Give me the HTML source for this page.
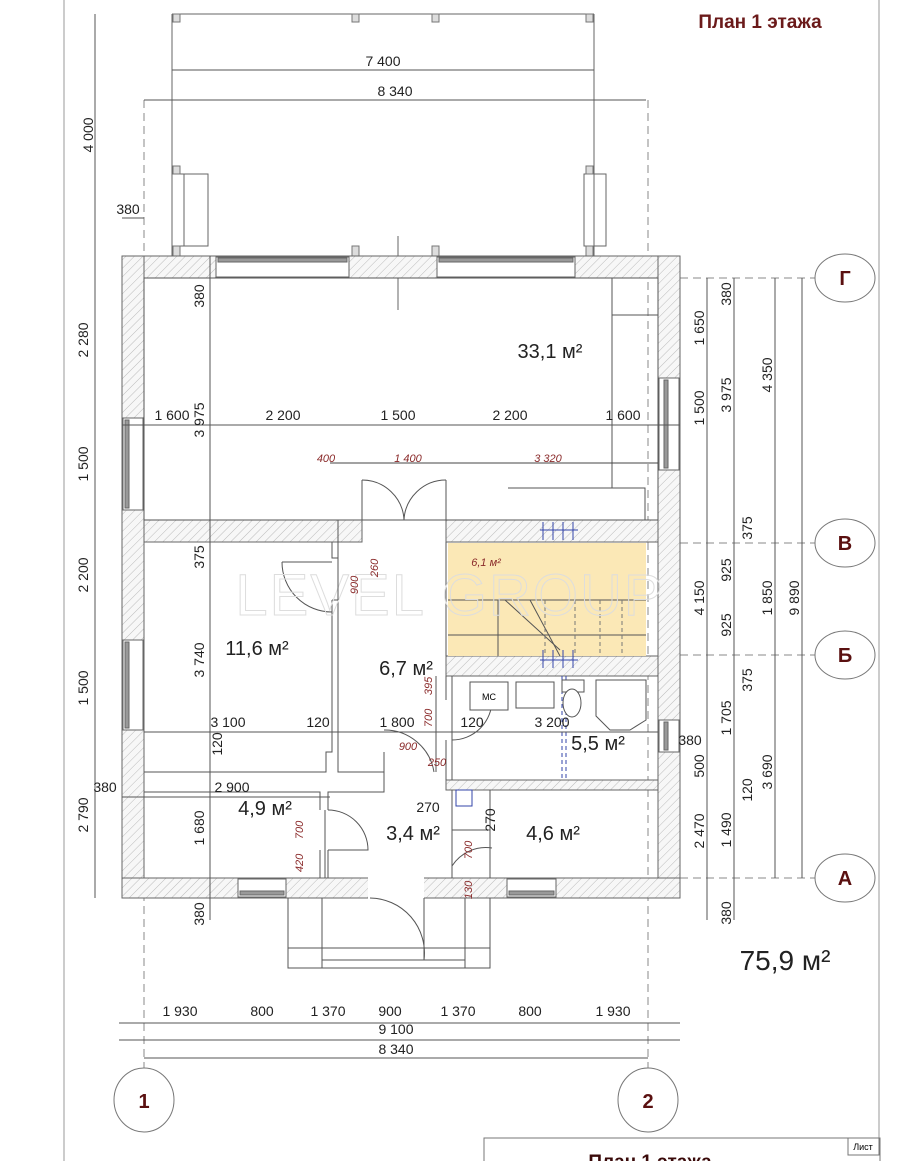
<!DOCTYPE html>
<html><head><meta charset="utf-8"><style>
html,body{margin:0;padding:0;background:#fff;}
svg{display:block;font-family:"Liberation Sans","DejaVu Sans",sans-serif;}
.d{font-size:14px;fill:#222;}
.r{font-size:11px;fill:#8a2a2a;font-style:italic;}
.ar{font-size:20px;fill:#222;}
.ax{font-size:20px;font-weight:bold;fill:#5a1010;}
</style></head><body>
<svg width="897" height="1161" viewBox="0 0 897 1161" xmlns="http://www.w3.org/2000/svg">
<defs>
<pattern id="h" width="6" height="6" patternUnits="userSpaceOnUse" patternTransform="rotate(45)">
<rect width="6" height="6" fill="#f7f7f7"/><line x1="0" y1="0" x2="0" y2="6" stroke="#bbb" stroke-width="1"/></pattern>
</defs>
<!-- frame -->
<line x1="64" y1="0" x2="64" y2="1161" stroke="#999"/>
<line x1="879" y1="0" x2="879" y2="1161" stroke="#999"/>
<text x="760" y="28" text-anchor="middle" style="font-size:19px;font-weight:bold;fill:#6b1a1a">План 1 этажа</text>

<!-- terrace -->
<g stroke="#666" fill="none" stroke-width="1">
<line x1="172" y1="14" x2="594" y2="14"/>
<line x1="172" y1="14" x2="172" y2="256"/><line x1="594" y1="14" x2="594" y2="256"/>
<rect x="172" y="174" width="36" height="72"/><line x1="184" y1="174" x2="184" y2="246"/>
<rect x="584" y="174" width="10" height="72"/><rect x="584" y="174" width="22" height="72"/>
</g>
<g fill="#ddd" stroke="#777">
<rect x="173" y="14" width="7" height="8"/><rect x="352" y="14" width="7" height="8"/><rect x="432" y="14" width="7" height="8"/><rect x="586" y="14" width="7" height="8"/>
<rect x="173" y="166" width="7" height="8"/><rect x="586" y="166" width="7" height="8"/>
<rect x="173" y="246" width="7" height="10"/><rect x="352" y="246" width="7" height="10"/><rect x="432" y="246" width="7" height="10"/><rect x="586" y="246" width="7" height="10"/>
</g>
<line x1="398" y1="236" x2="398" y2="310" stroke="#666"/>

<!-- axis dashed -->
<g stroke="#888" stroke-dasharray="8,5" fill="none">
<line x1="144" y1="100" x2="144" y2="1072"/><line x1="648" y1="100" x2="648" y2="1072"/>
<line x1="680" y1="278" x2="815" y2="278"/><line x1="680" y1="543" x2="815" y2="543"/>
<line x1="680" y1="655" x2="815" y2="655"/><line x1="680" y1="878" x2="815" y2="878"/>
</g>

<!-- walls -->
<g fill="url(#h)" stroke="#666" stroke-width="1">
<rect x="122" y="256" width="558" height="22"/>
<rect x="122" y="256" width="22" height="642"/>
<rect x="658" y="256" width="22" height="642"/>
<rect x="122" y="878" width="558" height="20"/>
<rect x="144" y="520" width="218" height="22"/>
<rect x="446" y="520" width="212" height="22"/>
<rect x="446" y="656" width="212" height="20"/>
<rect x="446" y="780" width="212" height="10"/>
</g>
<!-- openings -->
<g fill="#fff" stroke="#666">
<rect x="216" y="257" width="133" height="20"/><rect x="437" y="257" width="138" height="20"/>
<rect x="123" y="418" width="20" height="92"/><rect x="123" y="640" width="20" height="90"/>
<rect x="659" y="378" width="20" height="92"/><rect x="659" y="720" width="20" height="32"/>
<rect x="238" y="879" width="48" height="18"/><rect x="507" y="879" width="49" height="18"/>
<rect x="368" y="877" width="56" height="22" stroke="none"/>
</g>
<g fill="#999" stroke="#666">
<rect x="218" y="258" width="129" height="4"/><rect x="439" y="258" width="134" height="4"/>
<rect x="125" y="420" width="4" height="88"/><rect x="125" y="642" width="4" height="86"/>
<rect x="664" y="380" width="4" height="88"/><rect x="664" y="722" width="4" height="28"/>
<rect x="240" y="891" width="44" height="4"/><rect x="509" y="891" width="45" height="4"/>
</g>
<!-- inner partitions -->
<g fill="none" stroke="#555" stroke-width="1">
<rect x="144" y="278" width="514" height="242"/>
<line x1="144" y1="732" x2="658" y2="732" stroke="#333"/>
<path d="M144 772 H326 V752 H332 V600 M338 600 V772 H384 V752 M144 792 H320 V810 M320 850 V878 M328 850 V878 M328 810 V792 H384 V772"/>
<path d="M332 542 V558 H338 M338 600 H332"/>
<path d="M446 542 V656 M452 676 V780 M446 676 V700 M446 740 V780"/>
<path d="M452 790 V830 H490 V790 M490 800 V878 M452 848 V878"/>
<path d="M362 480 V520 M446 480 V520"/>
<path d="M508 488 H645 V520 M612 278 V488 M612 315 H658"/>
<path d="M288 898 V968 H490 V898 M322 898 V968 M465 898 V968 M288 948 H490 M322 960 H465"/>
</g>
<!-- doors -->
<g fill="none" stroke="#555">
<path d="M362 480 A42 42 0 0 1 404 520"/><path d="M446 480 A42 42 0 0 0 404 520"/>
<line x1="362" y1="480" x2="362" y2="520"/><line x1="446" y1="480" x2="446" y2="520"/>
<path d="M282 562 H332"/><path d="M282 562 A50 50 0 0 0 332 612"/>
<path d="M328 810 A40 40 0 0 1 368 850 H328"/>
<path d="M452 704 V740 A40 40 0 0 0 492 700"/>
<path d="M452 826 V866 A40 40 0 0 1 492 848"/>
<path d="M424 898 V960 A55 55 0 0 0 370 898"/>
<path d="M384 730 A50 50 0 0 1 434 772"/>
</g>
<!-- stairs -->
<rect x="448" y="543" width="198" height="113" fill="#fbe8b6"/>
<g stroke="#555" fill="none">
<line x1="448" y1="600" x2="646" y2="600"/><line x1="448" y1="635" x2="646" y2="635"/>
<line x1="498" y1="600" x2="498" y2="656"/><line x1="530" y1="600" x2="560" y2="656"/>
<line x1="505" y1="600" x2="560" y2="650"/>
</g>
<g stroke="#777" stroke-dasharray="4,3"><line x1="545" y1="600" x2="545" y2="656"/><line x1="575" y1="600" x2="575" y2="656"/><line x1="600" y1="600" x2="600" y2="656"/><line x1="622" y1="600" x2="622" y2="656"/></g>
<g stroke="#3344aa" fill="none"><path d="M543 522 V540 M553 522 V540 M563 522 V540 M573 522 V540 M540 530 H578 M543 650 V668 M553 650 V668 M563 650 V668 M573 650 V668 M540 660 H578"/>
<rect x="456" y="790" width="16" height="16"/><line x1="562" y1="676" x2="562" y2="780" stroke-dasharray="4,3"/><line x1="566" y1="676" x2="566" y2="780" stroke-dasharray="4,3"/></g>
<!-- bath fixtures -->
<g fill="#fff" stroke="#555">
<rect x="470" y="682" width="38" height="28"/><rect x="516" y="682" width="38" height="26"/>
<rect x="562" y="680" width="22" height="12"/><ellipse cx="572" cy="703" rx="9" ry="14"/>
<path d="M596 680 H646 V720 L630 730 H610 L596 716 Z"/>
</g>
<text x="489" y="700" style="font-size:9px" text-anchor="middle">МС</text>

<!-- watermark -->
<text x="450" y="615" text-anchor="middle" style="font-size:58px;fill:none;stroke:#ddd;stroke-width:1;letter-spacing:2px">LEVEL GROUP</text>

<!-- dimension lines -->
<g stroke="#555" fill="none">
<line x1="172" y1="70" x2="594" y2="70"/><line x1="144" y1="100" x2="646" y2="100"/>
<line x1="95" y1="14" x2="95" y2="256"/><line x1="122" y1="218" x2="144" y2="218"/>
<line x1="95" y1="256" x2="95" y2="898"/><line x1="210" y1="256" x2="210" y2="920"/>
<line x1="122" y1="425" x2="680" y2="425"/><line x1="330" y1="463" x2="658" y2="463" stroke="#444"/>
<line x1="144" y1="732" x2="658" y2="732"/><line x1="122" y1="797" x2="330" y2="797"/>
<line x1="707" y1="278" x2="707" y2="920"/><line x1="734" y1="278" x2="734" y2="920"/>
<line x1="775" y1="278" x2="775" y2="878"/><line x1="802" y1="278" x2="802" y2="878"/>
<line x1="119" y1="1023" x2="680" y2="1023"/><line x1="119" y1="1040" x2="680" y2="1040"/><line x1="144" y1="1058" x2="648" y2="1058"/>
<line x1="338" y1="520" x2="338" y2="600"/><line x1="436" y1="676" x2="436" y2="772"/><line x1="325" y1="810" x2="325" y2="878"/>
</g>
<g class="d" text-anchor="middle">
<text x="383" y="66">7 400</text><text x="395" y="96">8 340</text>
<text x="128" y="214">380</text>
<text x="172" y="420">1 600</text><text x="283" y="420">2 200</text><text x="398" y="420">1 500</text><text x="510" y="420">2 200</text><text x="623" y="420">1 600</text>
<text x="228" y="727">3 100</text><text x="318" y="727">120</text><text x="397" y="727">1 800</text><text x="472" y="727">120</text><text x="552" y="727">3 200</text>
<text x="105" y="792">380</text><text x="232" y="792">2 900</text>
<text x="428" y="812">270</text><text x="690" y="745">380</text>
<text x="180" y="1016">1 930</text><text x="262" y="1016">800</text><text x="328" y="1016">1 370</text><text x="390" y="1016">900</text><text x="458" y="1016">1 370</text><text x="530" y="1016">800</text><text x="613" y="1016">1 930</text>
<text x="396" y="1034">9 100</text><text x="396" y="1054">8 340</text>
</g>
<g class="d" text-anchor="middle">
<text transform="translate(93,135) rotate(-90)">4 000</text>
<text transform="translate(88,340) rotate(-90)">2 280</text><text transform="translate(88,464) rotate(-90)">1 500</text>
<text transform="translate(88,575) rotate(-90)">2 200</text><text transform="translate(88,688) rotate(-90)">1 500</text><text transform="translate(88,815) rotate(-90)">2 790</text>
<text transform="translate(204,296) rotate(-90)">380</text><text transform="translate(204,420) rotate(-90)">3 975</text><text transform="translate(204,557) rotate(-90)">375</text>
<text transform="translate(204,660) rotate(-90)">3 740</text><text transform="translate(222,744) rotate(-90)">120</text><text transform="translate(204,828) rotate(-90)">1 680</text><text transform="translate(204,914) rotate(-90)">380</text>
<text transform="translate(495,820) rotate(-90)">270</text>
<text transform="translate(704,328) rotate(-90)">1 650</text><text transform="translate(704,408) rotate(-90)">1 500</text><text transform="translate(704,598) rotate(-90)">4 150</text><text transform="translate(704,766) rotate(-90)">500</text><text transform="translate(704,831) rotate(-90)">2 470</text>
<text transform="translate(731,294) rotate(-90)">380</text><text transform="translate(731,395) rotate(-90)">3 975</text><text transform="translate(731,570) rotate(-90)">925</text><text transform="translate(731,625) rotate(-90)">925</text><text transform="translate(731,718) rotate(-90)">1 705</text><text transform="translate(731,830) rotate(-90)">1 490</text><text transform="translate(731,913) rotate(-90)">380</text>
<text transform="translate(752,528) rotate(-90)">375</text><text transform="translate(752,680) rotate(-90)">375</text><text transform="translate(752,790) rotate(-90)">120</text>
<text transform="translate(772,375) rotate(-90)">4 350</text><text transform="translate(772,598) rotate(-90)">1 850</text><text transform="translate(772,772) rotate(-90)">3 690</text>
<text transform="translate(799,598) rotate(-90)">9 890</text>
</g>
<g class="r" text-anchor="middle">
<text x="326" y="462">400</text><text x="408" y="462">1 400</text><text x="548" y="462">3 320</text>
<text x="408" y="750">900</text><text x="437" y="766">250</text>
<text transform="translate(358,585) rotate(-90)">900</text><text transform="translate(378,568) rotate(-90)">260</text>
<text transform="translate(432,686) rotate(-90)">395</text><text transform="translate(432,718) rotate(-90)">700</text>
<text transform="translate(303,830) rotate(-90)">700</text><text transform="translate(303,863) rotate(-90)">420</text>
<text transform="translate(472,850) rotate(-90)">700</text><text transform="translate(472,890) rotate(-90)">130</text>
<text x="486" y="566">6,1 м²</text>
</g>
<!-- areas -->
<g class="ar" text-anchor="middle">
<text x="550" y="358">33,1 м²</text><text x="257" y="655">11,6 м²</text><text x="406" y="675">6,7 м²</text>
<text x="265" y="815">4,9 м²</text><text x="413" y="840">3,4 м²</text><text x="553" y="840">4,6 м²</text><text x="598" y="750">5,5 м²</text>
<text x="785" y="970" style="font-size:28px">75,9 м²</text>
</g>
<!-- axis bubbles -->
<g fill="#fff" stroke="#777">
<ellipse cx="845" cy="278" rx="30" ry="24"/><ellipse cx="845" cy="543" rx="30" ry="24"/>
<ellipse cx="845" cy="655" rx="30" ry="24"/><ellipse cx="845" cy="878" rx="30" ry="24"/>
<ellipse cx="144" cy="1100" rx="30" ry="32"/><ellipse cx="648" cy="1100" rx="30" ry="32"/>
</g>
<g class="ax" text-anchor="middle">
<text x="845" y="285">Г</text><text x="845" y="550">В</text><text x="845" y="662">Б</text><text x="845" y="885">А</text>
<text x="144" y="1108">1</text><text x="648" y="1108">2</text>
</g>
<!-- title block -->
<rect x="484" y="1138" width="396" height="30" fill="#fff" stroke="#777"/>
<rect x="848" y="1138" width="31" height="17" fill="#fff" stroke="#777"/>
<text x="863" y="1150" text-anchor="middle" style="font-size:9px">Лист</text>
<text x="650" y="1168" text-anchor="middle" style="font-size:19px;font-weight:bold;fill:#3a0a0a">План 1 этажа</text>
</svg>
</body></html>
